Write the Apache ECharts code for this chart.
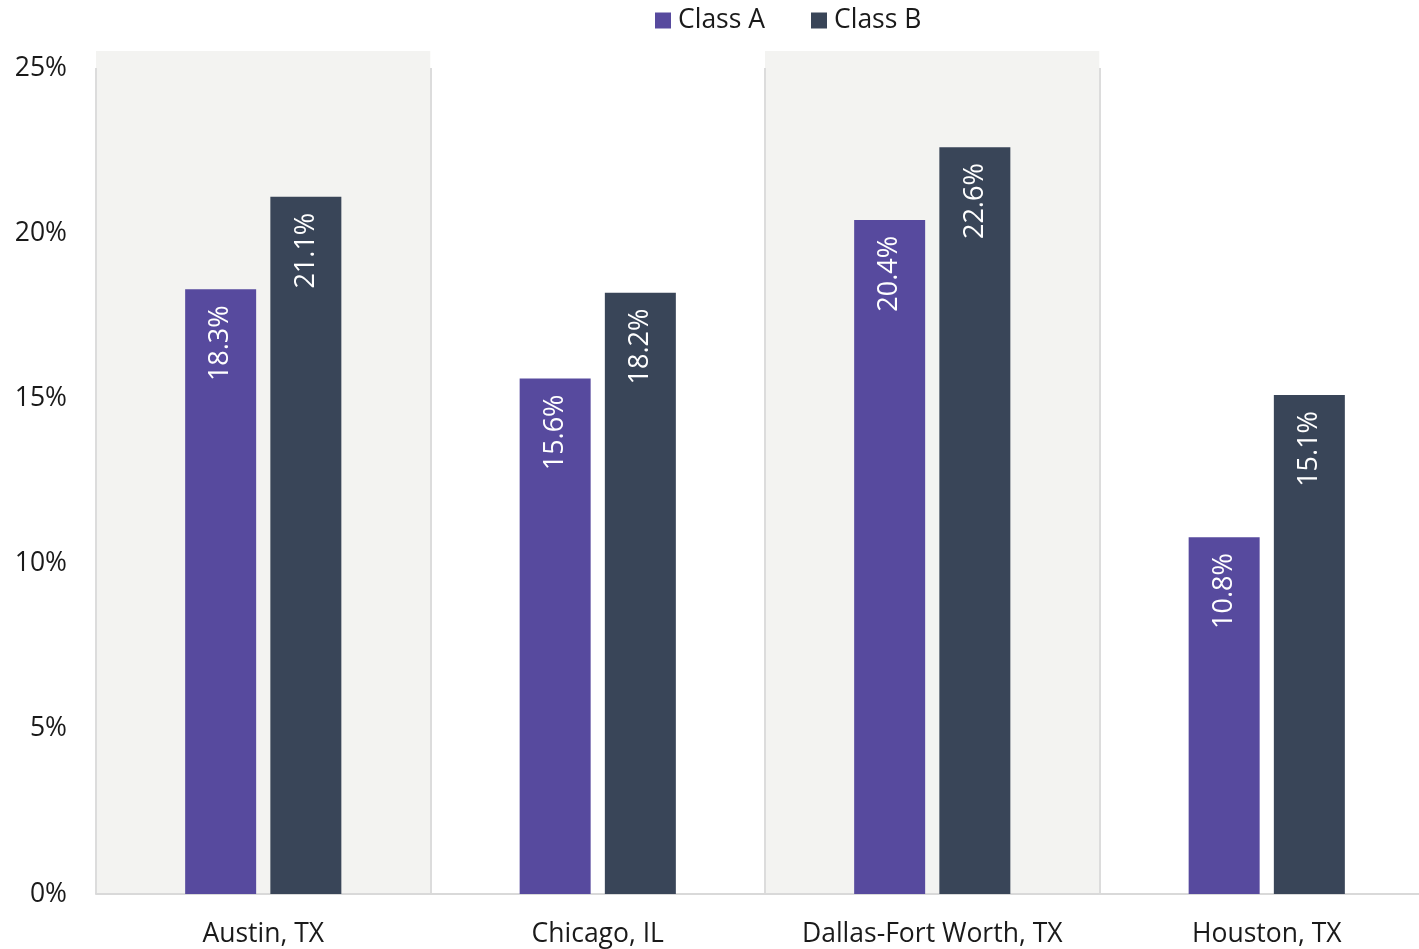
<!DOCTYPE html>
<html>
<head>
<meta charset="utf-8">
<title>Class A vs Class B by Market</title>
<script src="https://cdn.jsdelivr.net/npm/echarts@6/dist/echarts.min.js"></script>
<style>
  html, body { margin: 0; padding: 0; background: #ffffff; }
  #chart { width: 1419px; height: 949px; }
</style>
</head>
<body>
<div id="chart"></div>
<script>
// Markets and their values (percent)
const categories = ['Austin, TX', 'Chicago, IL', 'Dallas-Fort Worth, TX', 'Houston, TX'];
const classA = [18.3, 15.6, 20.4, 10.8];
const classB = [21.1, 18.2, 22.6, 15.1];
const seriesNames = ['Class A', 'Class B'];
const yTicks = { min: 0, max: 25, interval: 5 };

const FONT = '"Open Sans", "Noto Sans", sans-serif';
const COLOR_A = '#574A9E';
const COLOR_B = '#394558';
const TEXT = '#1a1a1a';

const chart = echarts.init(document.getElementById('chart'), null, { renderer: 'canvas' });

const barLabel = {
  show: true,
  position: 'insideTop',
  rotate: 90,
  align: 'right',
  verticalAlign: 'middle',
  distance: 16,
  color: '#ffffff',
  fontFamily: FONT,
  fontSize: 27,
  formatter: p => p.value.toFixed(1) + '%'
};

// the plot runs slightly past the right edge of the canvas
const gridBox = { left: 96, width: 1338, bottom: 55, outerBoundsMode: 'none', containLabel: false };

chart.setOption({
  animation: false,
  textStyle: { fontFamily: FONT },
  legend: {
    data: seriesNames,
    left: 650,
    top: 2,
    itemWidth: 16,
    itemHeight: 16,
    itemGap: 46,
    icon: 'rect',
    textStyle: { fontFamily: FONT, fontSize: 26.5, color: TEXT, padding: [0, 0, 0, 2] }
  },
  grid: [
    Object.assign({ top: 68 }, gridBox),
    Object.assign({ top: 51 }, gridBox)
  ],
  xAxis: [
    {
      type: 'category',
      gridIndex: 0,
      data: categories,
      z: 2,
      axisLine: { show: true, lineStyle: { color: '#d9d9d9', width: 2 } },
      axisTick: { show: false },
      splitLine: { show: true, lineStyle: { color: '#dcdcdc', width: 2 } },
      axisLabel: { interval: 0, fontFamily: FONT, fontSize: 26.5, color: TEXT, margin: 27 }
    },
    {
      // alternating shaded columns behind the market groups
      type: 'category',
      gridIndex: 1,
      data: categories,
      z: 0,
      axisLine: { show: false },
      axisTick: { show: false },
      axisLabel: { show: false },
      splitLine: { show: false },
      splitArea: { show: true, interval: 0, areaStyle: { color: ['#f3f3f1', '#ffffff'] } }
    }
  ],
  yAxis: [
    {
      type: 'value',
      gridIndex: 0,
      min: yTicks.min,
      max: yTicks.max,
      interval: yTicks.interval,
      z: 2,
      axisLine: { show: false },
      axisTick: { show: false },
      splitLine: { show: false },
      axisLabel: {
        formatter: '{value}%',
        fontFamily: FONT,
        fontSize: 26.5,
        color: TEXT,
        margin: 29
      }
    },
    {
      type: 'value',
      gridIndex: 1,
      min: 0,
      max: 1,
      show: false
    }
  ],
  series: [
    {
      name: seriesNames[0],
      type: 'bar',
      xAxisIndex: 0,
      yAxisIndex: 0,
      data: classA,
      barWidth: 71,
      barGap: '20%',
      itemStyle: { color: COLOR_A },
      label: barLabel,
      z: 3
    },
    {
      name: seriesNames[1],
      type: 'bar',
      xAxisIndex: 0,
      yAxisIndex: 0,
      data: classB,
      barWidth: 71,
      barGap: '20%',
      itemStyle: { color: COLOR_B },
      label: barLabel,
      z: 3
    },
    {
      name: 'bands',
      type: 'bar',
      xAxisIndex: 1,
      yAxisIndex: 1,
      data: [],
      silent: true
    }
  ]
});
</script>
</body>
</html>
